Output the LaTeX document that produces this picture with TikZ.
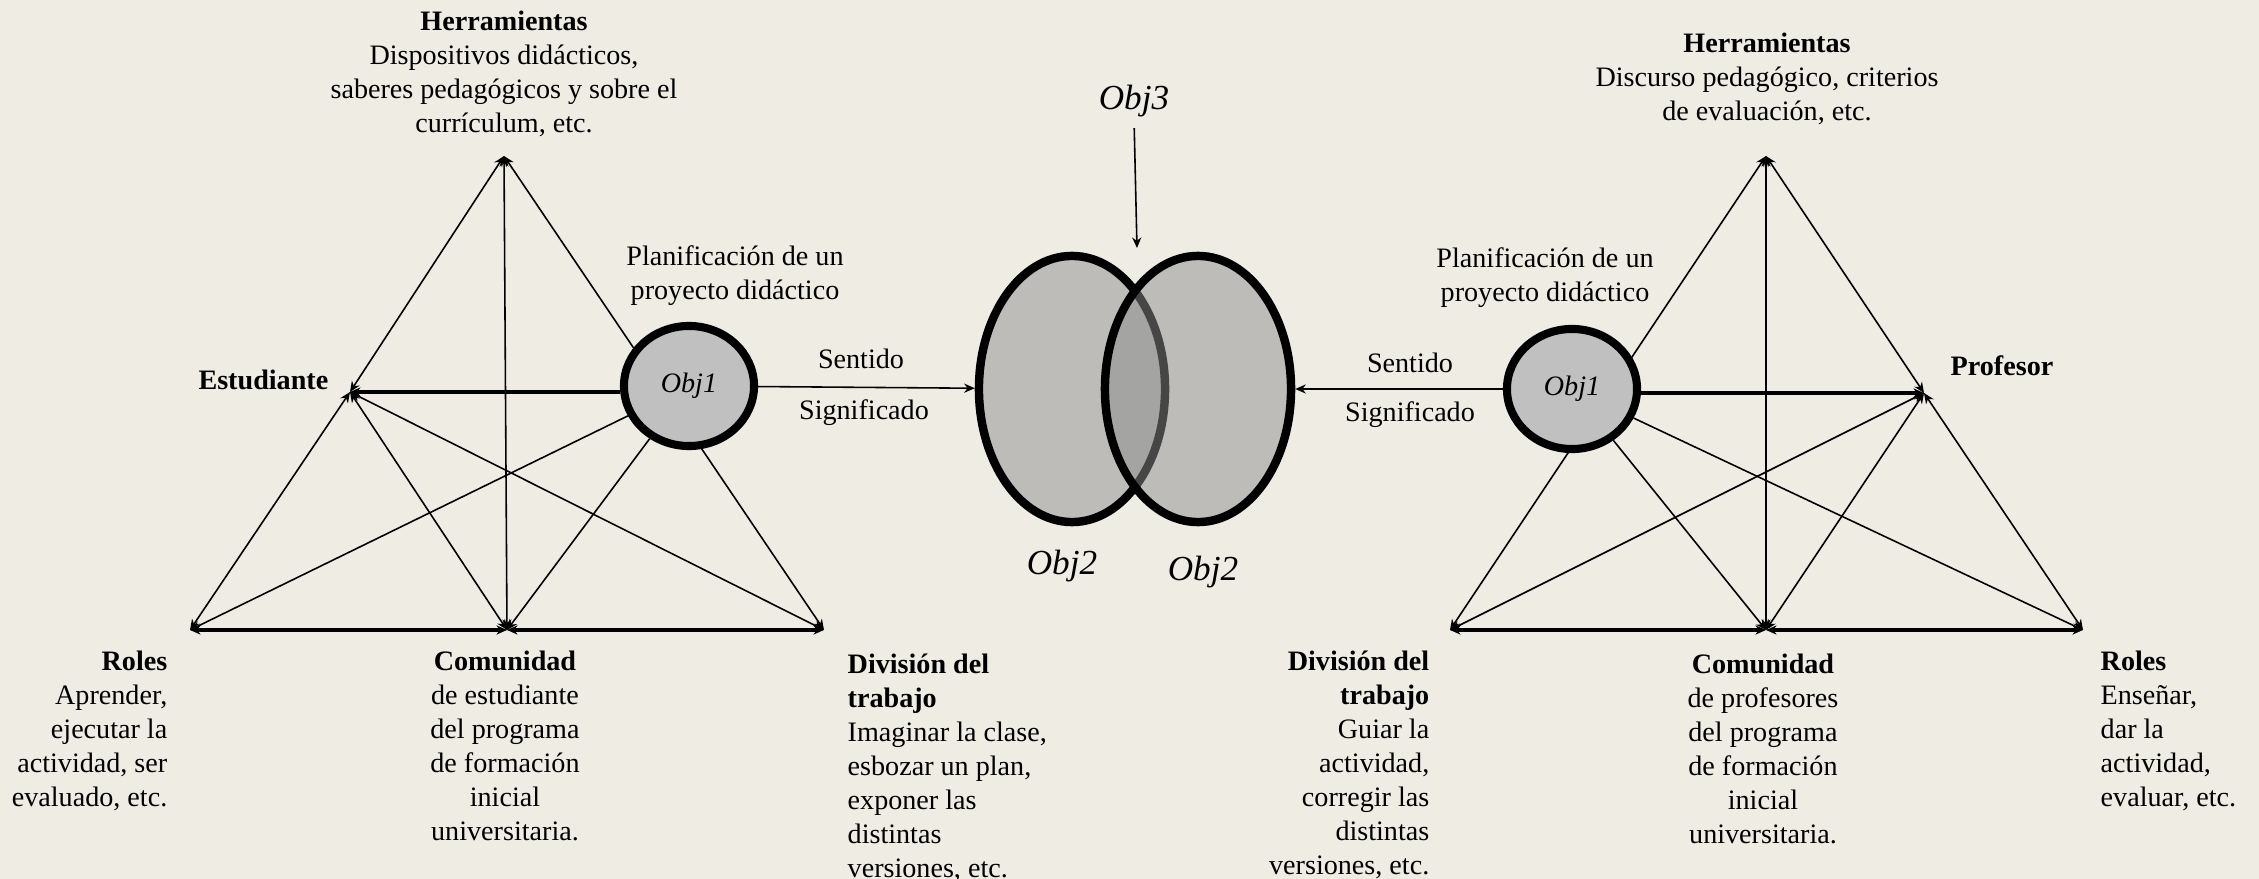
\documentclass[tikz,border=0pt]{standalone}
\usepackage{fontspec}
\setmainfont{Liberation Serif}
\usepackage{tikz}
\usetikzlibrary{arrows.meta,shapes.geometric}
\definecolor{fondo}{RGB}{239,236,228}
\definecolor{gris}{RGB}{141,141,141}
\definecolor{plata}{RGB}{192,192,192}

\begin{document}
\begin{tikzpicture}[x=0.01cm,y=-0.01cm,
        >={Stealth[length=3pt,width=2.6pt]},
        txt/.style={font=\fontsize{8}{9.7}\selectfont,inner sep=0pt},
        lado/.style={<->,line width=0.45pt},
        base/.style={<->,line width=0.9pt},
        obj/.style={ellipse,draw,line width=2.3pt,fill=plata,minimum width=1.3cm,minimum height=1.2cm,
            font=\fontsize{8}{9.7}\selectfont\itshape},
        sig/.style={ellipse,draw,line width=2.4pt,fill=gris,fill opacity=0.5,minimum width=1.86cm,minimum height=2.66cm},
        grande/.style={font=\fontsize{10}{12}\selectfont\itshape,inner sep=0pt}]
        \useasboundingbox (0,0) rectangle (2259,879);
        \fill[fondo] (0,0) rectangle (2259,879);

        \coordinate (HL) at (504,156);
        \coordinate (EL) at (350,392);
        \coordinate (RL) at (190,630);
        \coordinate (CL) at (507,630);
        \coordinate (DL) at (824,630);

        \coordinate (HR) at (1766,156);
        \coordinate (PR) at (1924,393);
        \coordinate (DR) at (1450,630);
        \coordinate (CR) at (1766,630);
        \coordinate (RR) at (2083,630);

        \draw[lado] (HL) -- (EL);
        \draw[lado] (HL) -- (CL);
        \draw[lado] (HL) -- (DL);
        \draw[lado] (EL) -- (RL);
        \draw[lado] (EL) -- (CL);
        \draw[lado] (EL) -- (DL);
        \draw[base] (RL) -- (CL);
        \draw[base] (CL) -- (DL);

        \draw[lado] (HR) -- (PR);
        \draw[lado] (HR) -- (CR);
        \draw[lado] (HR) -- (DR);
        \draw[lado] (PR) -- (RR);
        \draw[lado] (PR) -- (CR);
        \draw[lado] (PR) -- (DR);
        \draw[base] (DR) -- (CR);
        \draw[base] (CR) -- (RR);

        \node[obj] (OL) at (689,386) {Obj1};
        \node[obj] (OR) at (1572,389) {Obj1};

        \draw[->,line width=0.9pt] (EL -| OL.west) -- (EL);
        \draw[->,line width=0.45pt] (OL) -- (RL);
        \draw[->,line width=0.45pt] (OL) -- (CL);
        \draw[->,line width=0.9pt] (PR -| OR.east) -- (PR);
        \draw[->,line width=0.45pt] (OR) -- (RR);
        \draw[->,line width=0.45pt] (OR) -- (CR);

        \node[sig] (S1) at (1072,389) {};
        \node[sig] (S2) at (1198,389) {};
        \coordinate (X) at (1137,248);

        \draw[->,line width=0.45pt] (OL) -- (S1);
        \draw[->,line width=0.45pt] (OR) -- (S2);

        \node[grande] (T3) at (1134,101) {Obj3};
        \draw[->,line width=0.45pt,shorten <=3pt] (T3.south) -- (X);
        \node[grande] (T2a) at (1062,566) {Obj2};
        \node[grande] (T2b) at (1203,572) {Obj2};

        \node[txt,align=center,anchor=north] (HLt) at (504,10)
            {\textbf{Herramientas}\\Dispositivos didácticos,\\saberes pedagógicos y sobre el\\currículum, etc.};
        \node[txt,anchor=east] (ELt) at (329,380) {\textbf{Estudiante}};
        \node[txt,align=center,anchor=north] (PLt) at (735,245) {Planificación de un\\proyecto didáctico};
        \node[txt] (SLa) at (861,359) {Sentido};
        \node[txt] (SLb) at (864,413) {Significado};
        \node[txt,align=right,anchor=north east] (RLt) at (168,650)
            {\textbf{Roles}\\Aprender,\\ejecutar la\\actividad, ser\\evaluado, etc.};
        \node[txt,align=center,anchor=north] (CLt) at (505,650)
            {\textbf{Comunidad}\\de estudiante\\del programa\\de formación\\inicial\\universitaria.};
        \node[txt,align=left,anchor=north west] (DLt) at (847,653)
            {\textbf{División del}\\\textbf{trabajo}\\Imaginar la clase,\\esbozar un plan,\\exponer las\\distintas\\versiones, etc.};

        \node[txt,align=center,anchor=north] (HRt) at (1767,32)
            {\textbf{Herramientas}\\Discurso pedagógico, criterios\\de evaluación, etc.};
        \node[txt] (PRt) at (2002,366) {\textbf{Profesor}};
        \node[txt,align=center,anchor=north] (PRp) at (1545,247) {Planificación de un\\proyecto didáctico};
        \node[txt] (SRa) at (1410,363) {Sentido};
        \node[txt] (SRb) at (1410,415) {Significado};
        \node[txt,align=right,anchor=north east] (DRt) at (1430,650)
            {\textbf{División del}\\\textbf{trabajo}\\Guiar la\\actividad,\\corregir las\\distintas\\versiones, etc.};
        \node[txt,align=center,anchor=north] (CRt) at (1763,653)
            {\textbf{Comunidad}\\de profesores\\del programa\\de formación\\inicial\\universitaria.};
        \node[txt,align=left,anchor=north west] (RRt) at (2100,650)
            {\textbf{Roles}\\Enseñar,\\dar la\\actividad,\\evaluar, etc.};
    \end{tikzpicture}
\end{document}
